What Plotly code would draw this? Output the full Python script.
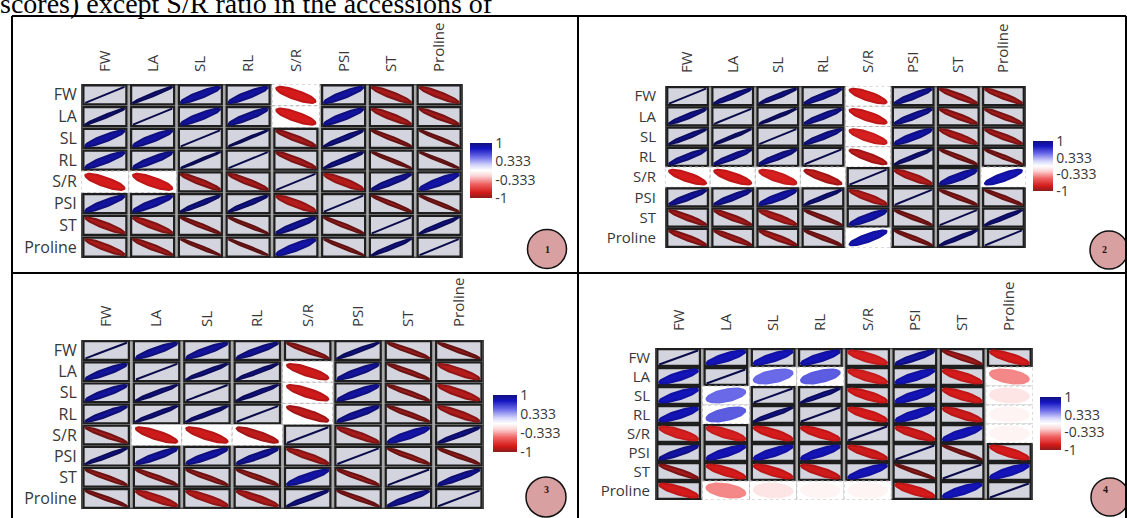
import numpy as np
import plotly.graph_objects as go

# ---------------------------------------------------------------- data
traits = ["FW", "LA", "SL", "RL", "S/R", "PSI", "ST", "Proline"]

corr_1 = [
    [1.00, 0.98, 0.90, 0.90, -0.80, 0.90, -0.92, -0.92],
    [0.98, 1.00, 0.90, 0.91, -0.80, 0.90, -0.92, -0.94],
    [0.90, 0.90, 1.00, 0.99, -0.93, 0.96, -0.97, -0.98],
    [0.90, 0.91, 0.99, 1.00, -0.93, 0.96, -0.98, -0.985],
    [-0.80, -0.80, -0.93, -0.93, 1.00, -0.89, 0.93, 0.88],
    [0.90, 0.90, 0.96, 0.96, -0.89, 1.00, -0.97, -0.98],
    [-0.92, -0.92, -0.97, -0.98, 0.93, -0.97, 1.00, 0.97],
    [-0.92, -0.94, -0.98, -0.985, 0.88, -0.98, 0.97, 1.00],
]
corr_2 = [
    [1.00, 0.95, 0.96, 0.93, -0.80, 0.92, -0.93, -0.93],
    [0.95, 1.00, 0.98, 0.93, -0.80, 0.92, -0.93, -0.94],
    [0.96, 0.98, 1.00, 0.93, -0.78, 0.89, -0.91, -0.93],
    [0.93, 0.93, 0.93, 1.00, -0.86, 0.97, -0.97, -0.97],
    [-0.80, -0.80, -0.78, -0.86, 1.00, -0.89, 0.88, 0.84],
    [0.92, 0.92, 0.89, 0.97, -0.89, 1.00, -0.97, -0.97],
    [-0.93, -0.93, -0.91, -0.97, 0.88, -0.97, 1.00, 0.97],
    [-0.93, -0.94, -0.93, -0.97, 0.84, -0.97, 0.97, 1.00],
]
corr_3 = [
    [1.00, 0.91, 0.91, 0.93, -0.95, 0.97, -0.96, -0.97],
    [0.91, 1.00, 0.97, 0.97, -0.82, 0.91, -0.96, -0.89],
    [0.91, 0.97, 1.00, 0.97, -0.82, 0.90, -0.96, -0.89],
    [0.93, 0.97, 0.97, 1.00, -0.86, 0.92, -0.96, -0.91],
    [-0.95, -0.82, -0.82, -0.86, 1.00, -0.92, 0.88, 0.96],
    [0.97, 0.91, 0.90, 0.92, -0.92, 1.00, -0.96, -0.97],
    [-0.96, -0.96, -0.96, -0.96, 0.88, -0.96, 1.00, 0.93],
    [-0.97, -0.89, -0.89, -0.91, 0.96, -0.97, 0.93, 1.00],
]
corr_4 = [
    [1.00, 0.82, 0.82, 0.83, -0.78, 0.89, -0.93, -0.80],
    [0.82, 1.00, 0.50, 0.55, -0.78, 0.83, -0.80, -0.40],
    [0.82, 0.50, 1.00, 0.96, -0.80, 0.83, -0.80, -0.12],
    [0.83, 0.55, 0.96, 1.00, -0.80, 0.83, -0.82, -0.05],
    [-0.78, -0.78, -0.80, -0.80, 1.00, -0.82, 0.83, -0.05],
    [0.89, 0.83, 0.83, 0.83, -0.82, 1.00, -0.97, -0.80],
    [-0.93, -0.80, -0.80, -0.82, 0.83, -0.97, 1.00, 0.82],
    [-0.80, -0.40, -0.12, -0.05, -0.05, -0.80, 0.82, 1.00],
]

# pairs drawn on a plain white cell
plain_1 = [("FW", "S/R"), ("LA", "S/R")]
plain_2 = [("FW", "S/R"), ("LA", "S/R"), ("SL", "S/R"), ("RL", "S/R"), ("S/R", "Proline")]
plain_3 = [("LA", "S/R"), ("SL", "S/R"), ("RL", "S/R")]
plain_4 = [("LA", "SL"), ("LA", "RL"), ("LA", "Proline"), ("SL", "Proline"),
           ("RL", "Proline"), ("S/R", "Proline")]

panel_labels = ["1", "2", "3", "4"]
bar_ticks = [1, 0.333, -0.333, -1]
bar_ticktext = ["1", "0.333", "-0.333", "-1"]
heading = "scores) except S/R ratio in the accessions of"

# ---------------------------------------------------------------- layout
W, H = 1127, 518


def px(x):
    return x / W


def py(y):
    return 1 - y / H


grid_boxes = [(81, 84, 463, 258), (665, 86, 1026, 248),
              (81, 340, 484, 509), (655, 348, 1033, 500)]
col_label_gap = [8, 9, 9, 13]
row_label_gap = [0, 5, 0, 1]
row_font_size = [16, 15, 16, 15]
bar_boxes = [(470, 143, 198, 22), (1033, 141, 191, 20),
             (493, 395, 452, 24), (1040, 397, 450, 21)]
badge_centres = [(547, 249, 19.5), (1109, 250, 19), (546, 497, 20), (1110, 497, 19)]

corr_scale = [
    [0.0, "#8c1c1c"], [0.1, "#d41a1a"], [0.25, "#f06060"], [0.4, "#fbd4d4"],
    [0.5, "#ffffff"], [0.6, "#d4d4fb"], [0.75, "#6a6ae8"], [0.9, "#1414c0"],
    [1.0, "#12127e"],
]


def hex_rgb(h):
    h = h.lstrip("#")
    return np.array([int(h[i:i + 2], 16) for i in (0, 2, 4)], dtype=float)


def scale_colour(r, dark=0.0):
    v = (r + 1) / 2
    for (a, ca), (b, cb) in zip(corr_scale[:-1], corr_scale[1:]):
        if a <= v <= b:
            f = 0 if b == a else (v - a) / (b - a)
            c = hex_rgb(ca) * (1 - f) + hex_rgb(cb) * f
            break
    c = c * (1 - dark)
    return "rgb({:.0f},{:.0f},{:.0f})".format(*c)


t = np.linspace(0, 2 * np.pi, 73)


def ellipse(r, row, col, hx=0.41, hy=0.37):
    d = np.arccos(np.clip(r, -1, 1))
    ex = col + 0.5 + hx * np.cos(t + d / 2)
    ey = row + 0.5 - hy * np.cos(t - d / 2)
    return ex, ey


fig = go.Figure()
shapes = []
annotations = []
col_font = dict(family="Open Sans", size=15, color="#383838")
bar_font = dict(family="Open Sans", size=14, color="#383838")

matrices = [corr_1, corr_2, corr_3, corr_4]
plain_sets = [plain_1, plain_2, plain_3, plain_4]

for k in range(4):
    sfx = "" if k == 0 else str(k + 1)
    xa, ya = "x" + sfx, "y" + sfx
    x0, y0, x1, y1 = grid_boxes[k]
    fig.update_layout({
        "xaxis" + sfx: dict(
            domain=[px(x0), px(x1)], range=[0, 8], anchor=ya, side="top",
            tickvals=[i + 0.5 for i in range(8)], ticktext=traits, tickangle=-90,
            ticks="outside", ticklen=col_label_gap[k], tickcolor="rgba(0,0,0,0)",
            showgrid=False, zeroline=False, showline=False, fixedrange=True,
            automargin=False, tickfont=col_font),
        "yaxis" + sfx: dict(
            domain=[py(y1), py(y0)], range=[8, 0], anchor=xa,
            tickvals=[i + 0.5 for i in range(8)], ticktext=traits,
            ticks="outside", ticklen=row_label_gap[k], tickcolor="rgba(0,0,0,0)",
            showgrid=False, zeroline=False, showline=False, fixedrange=True,
            automargin=False,
            tickfont=dict(family="Open Sans", size=row_font_size[k], color="#383838")),
    })

    # grid backdrop
    shapes.append(dict(type="rect", xref=xa, yref=ya, x0=0, x1=8, y0=0, y1=8,
                       fillcolor="#a8a8a8", line=dict(color="#4a4a4a", width=3),
                       layer="below"))
    plain = set()
    for a, b in plain_sets[k]:
        i, j = traits.index(a), traits.index(b)
        plain.add((i, j))
        plain.add((j, i))

    mat = matrices[k]
    for i in range(8):
        for j in range(8):
            if (i, j) in plain:
                shapes.append(dict(type="rect", xref=xa, yref=ya,
                                   x0=j, x1=j + 1, y0=i, y1=i + 1,
                                   fillcolor="#ffffff",
                                   line=dict(color="#b8b8b8", width=1, dash="dot"),
                                   layer="below"))
            else:
                shapes.append(dict(type="rect", xref=xa, yref=ya,
                                   x0=j + 0.05, x1=j + 0.95, y0=i + 0.06, y1=i + 0.94,
                                   fillcolor="#d4d4de",
                                   line=dict(color="#1e1e1e", width=2.2),
                                   layer="below"))
            r = mat[i][j]
            ex, ey = ellipse(r, i, j)
            fig.add_trace(go.Scatter(
                x=ex, y=ey, xaxis=xa, yaxis=ya, mode="lines", fill="toself",
                fillcolor=scale_colour(r),
                line=dict(color=scale_colour(r, 0.4 * abs(r) ** 6), width=2),
                hoverinfo="skip", showlegend=False))

    # colour bar for the panel
    bx, btop, bbot, bth = bar_boxes[k]
    fig.add_trace(go.Scatter(
        x=[0.5], y=[0.5], xaxis=xa, yaxis=ya, mode="markers", hoverinfo="skip",
        showlegend=False,
        marker=dict(size=1, opacity=0, color=[0], cmin=-1, cmax=1,
                    colorscale=corr_scale, showscale=True,
                    colorbar=dict(x=px(bx), xanchor="left", xpad=0,
                                  y=py(btop), yanchor="top", ypad=0,
                                  lenmode="pixels", len=bbot - btop,
                                  thicknessmode="pixels", thickness=bth,
                                  outlinewidth=0, ticks="",
                                  tickvals=bar_ticks, ticktext=bar_ticktext,
                                  tickfont=bar_font))))

    # numbered badge
    cx, cy, rad = badge_centres[k]
    shapes.append(dict(type="circle", xref="paper", yref="paper",
                       x0=px(cx - rad), x1=px(cx + rad), y0=py(cy + rad), y1=py(cy - rad),
                       fillcolor="#d8a0a0", line=dict(color="#111111", width=1.5)))
    annotations.append(dict(x=px(cx), y=py(cy), xref="paper", yref="paper",
                            text="<b>%s</b>" % panel_labels[k], showarrow=False,
                            font=dict(family="Liberation Serif", size=10, color="#2a1010")))

# table frame
frame = dict(color="#000000", width=2)
for (xa0, ya0, xa1, ya1) in [(12, 16, 1126, 16), (12, 273, 1126, 273),
                             (12, 16, 12, 518), (578, 16, 578, 518),
                             (1126, 16, 1126, 518)]:
    shapes.append(dict(type="line", xref="paper", yref="paper",
                       x0=px(xa0), x1=px(xa1), y0=py(ya0), y1=py(ya1), line=frame))

annotations.append(dict(x=px(-1), y=py(20), xref="paper", yref="paper",
                        xanchor="left", yanchor="bottom", text=heading,
                        showarrow=False, borderpad=0,
                        font=dict(family="Liberation Serif", size=28, color="#000000")))

fig.update_layout(width=W, height=H, margin=dict(l=0, r=0, t=0, b=0),
                  template="none", paper_bgcolor="white",
                  plot_bgcolor="rgba(0,0,0,0)", shapes=shapes,
                  annotations=annotations, showlegend=False)

fig.write_html("out.html")
